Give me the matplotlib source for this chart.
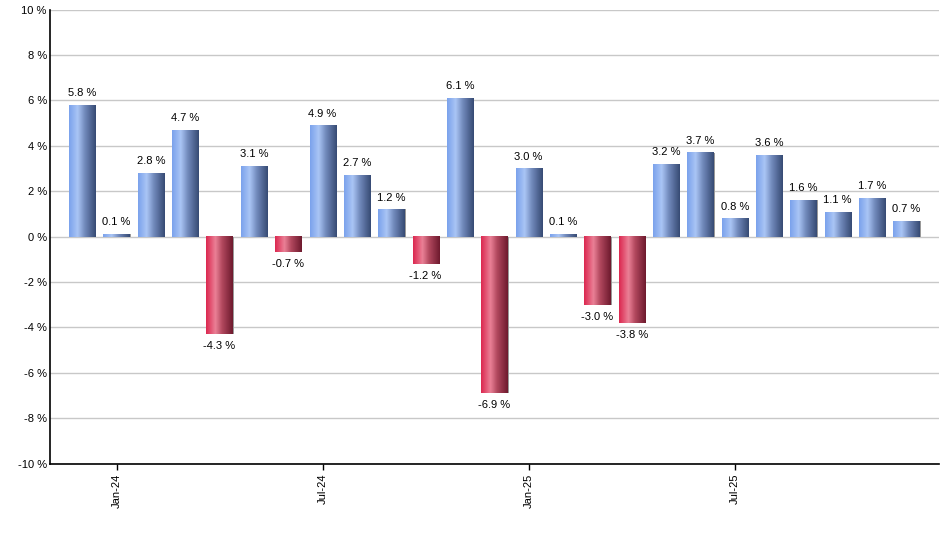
import numpy as np
import matplotlib
matplotlib.use('Agg')
import matplotlib.pyplot as plt
from matplotlib.colors import LinearSegmentedColormap

plt.rcParams['font.family'] = ['Liberation Sans', 'DejaVu Sans']

# monthly returns, Dec-23 .. Dec-25
months = ['Dec-23', 'Jan-24', 'Feb-24', 'Mar-24', 'Apr-24', 'May-24', 'Jun-24',
          'Jul-24', 'Aug-24', 'Sep-24', 'Oct-24', 'Nov-24', 'Dec-24',
          'Jan-25', 'Feb-25', 'Mar-25', 'Apr-25', 'May-25', 'Jun-25',
          'Jul-25', 'Aug-25', 'Sep-25', 'Oct-25', 'Nov-25', 'Dec-25']
returns = [5.8, 0.1, 2.8, 4.7, -4.3, 3.1, -0.7, 4.9, 2.7, 1.2, -1.2, 6.1, -6.9,
           3.0, 0.1, -3.0, -3.8, 3.2, 3.7, 0.8, 3.6, 1.6, 1.1, 1.7, 0.7]
tick_months = ['Jan-24', 'Jul-24', 'Jan-25', 'Jul-25']
y_ticks = [-10, -8, -6, -4, -2, 0, 2, 4, 6, 8, 10]

blue_cmap = LinearSegmentedColormap.from_list(
    'blue_bar', [(0.0, '#7ba2ec'), (0.32, '#aac5f5'), (0.6, '#7088ba'), (1.0, '#374b74')])
red_cmap = LinearSegmentedColormap.from_list(
    'red_bar', [(0.0, '#dc2850'), (0.35, '#ea8096'), (0.6, '#b2485e'), (1.0, '#6e1a2e')])

fig = plt.figure(figsize=(9.4, 5.5), dpi=100)
ax = fig.add_axes([0.0527, 0.157, 0.9463, 0.8257])

width = 0.76
grad = np.linspace(0, 1, 64).reshape(1, -1)
for i, v in enumerate(returns):
    x0 = i - width / 2
    x1 = i + width / 2
    cmap = blue_cmap if v >= 0 else red_cmap
    # thin shadow on the right edge
    ax.add_patch(plt.Rectangle((x1, min(0, v)), 0.035, abs(v), color='#9a9a9a',
                               lw=0, zorder=2))
    ax.imshow(grad, extent=[x0, x1, 0, v] if v >= 0 else [x0, x1, v, 0],
              aspect='auto', cmap=cmap, interpolation='bilinear', zorder=3,
              origin='lower')
    if v >= 0:
        ax.text(i, v + 0.3, f'{v:.1f} %', ha='center', va='bottom', fontsize=8)
    else:
        ax.text(i, v - 0.3, f'{v:.1f} %', ha='center', va='top', fontsize=8)

ax.set_xlim(-0.95, len(returns) - 0.05)
ax.set_ylim(-10, 10)
ax.set_yticks(y_ticks)
ax.set_yticklabels([f'{t} %' for t in y_ticks], fontsize=8)
ax.tick_params(axis='y', length=0, pad=2)
ax.set_xticks([months.index(m) for m in tick_months])
ax.set_xticklabels(tick_months, rotation=90, fontsize=8)
ax.tick_params(axis='x', length=4, width=1, color='black', pad=3)
ax.grid(axis='y', color='#c8c8c8', lw=1, zorder=1)
ax.set_axisbelow(True)
for s in ['top', 'right']:
    ax.spines[s].set_visible(False)
for s in ['left', 'bottom']:
    ax.spines[s].set_linewidth(1.2)
    ax.spines[s].set_zorder(5)

fig.savefig('out.png', dpi=100)
